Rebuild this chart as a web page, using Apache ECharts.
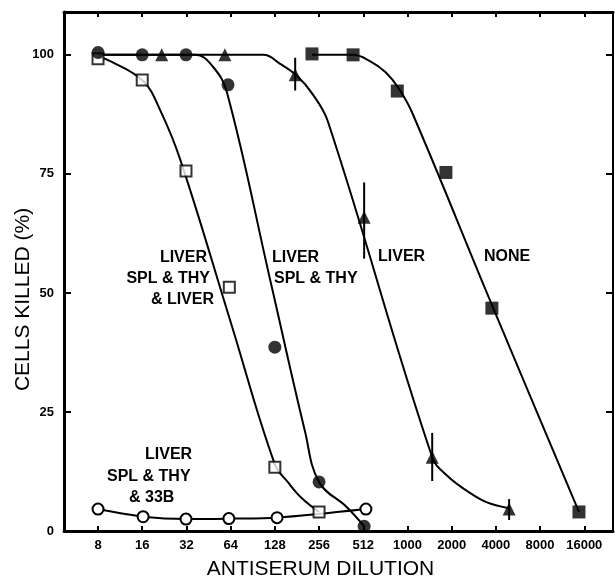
<!DOCTYPE html>
<html>
<head>
<meta charset="utf-8">
<script src="https://cdn.jsdelivr.net/npm/echarts@6/dist/echarts.min.js"></script>
<style>
  html, body { margin: 0; padding: 0; background: #fff; }
  #main { width: 615px; height: 581px; }
</style>
</head>
<body>
<div id="main"></div>
<script>
// x is in dilution steps (log2 scale, 0 = 1:8, 1 = 1:16, ...)
var xLabels = ['8', '16', '32', '64', '128', '256', '512', '1000', '2000', '4000', '8000', '16000'];
var yTicks = [0, 25, 50, 75, 100];

// LIVER, SPL & THY & 33B (open circles)
var absB33 = [[0, 4.6], [1.02, 3.0], [1.99, 2.5], [2.96, 2.6], [4.05, 2.8], [6.06, 4.6]];

// LIVER, SPL & THY & LIVER (open squares)
var absLiverPts = [[0, 99.2], [1, 94.7], [1.99, 75.6], [2.97, 51.2], [4.0, 13.4], [5.0, 4.0]];
var absLiverFit = [[0, 99.6], [0.3, 98.6], [1.02, 94.5], [1.4, 88.5], [1.86, 78], [3.0, 43.9], [4.0, 14], [4.3, 10.2], [4.6, 7], [5.0, 4.0]];

// LIVER, SPL & THY (filled circles)
var absSplPts = [[0, 100.5], [1, 100], [1.99, 100], [2.94, 93.7], [4.0, 38.6], [5.0, 10.3], [6.02, 1.0]];
var absSplFit = [[0, 100], [2.2, 100], [2.6, 97.5], [2.92, 92], [3.9, 52.5], [4.68, 21], [5.0, 10.3], [5.63, 5.0], [6.02, 1.0]];

// LIVER (filled triangles, with error bars)
var absLivPts = [[1.44, 100], [2.87, 100], [4.46, 95.8], [6.02, 65.9], [7.56, 15.5], [9.3, 4.6]];
var absLivErr = [[4.46, 92.5, 99.4], [6.02, 57.2, 73.2], [7.56, 10.5, 20.6], [9.3, 2.3, 6.7]];
var absLivFit = [[0, 100], [3.74, 100], [4.12, 98.1], [4.5, 95.6], [4.85, 91.8], [5.2, 86], [7.56, 15.5], [7.9, 11.6], [8.35, 8.4], [8.8, 6.0], [9.3, 4.8]];

// NONE (filled squares)
var nonePts = [[4.84, 100.2], [5.77, 100], [6.77, 92.4], [7.87, 75.3], [8.91, 46.8], [10.88, 4.0]];
var noneFit = [[4.84, 100], [5.77, 100], [6.15, 98.7], [6.5, 96.4], [6.8, 93], [7.1, 88], [8.87, 48.4], [10.88, 4.0]];

var xTickPos = xLabels.map(function (l, i) { return i; });
var FONT = '"Liberation Sans", Arial, sans-serif';

function fitLine(data) {
	return {
		type: 'line', data: data, smooth: 0.4, showSymbol: false, silent: true,
		lineStyle: { color: '#000', width: 2 }, z: 2
	};
}
function points(data, symbol, size, filled) {
	return {
		type: 'scatter', data: data, symbol: symbol, symbolSize: size, z: 4,
		itemStyle: filled ? { color: '#000' } : { color: '#fff', borderColor: '#000', borderWidth: 2 }
	};
}
function frameLine(width) {
	return { show: true, onZero: false, lineStyle: { color: '#000', width: width } };
}

var chart = echarts.init(document.getElementById('main'));

chart.setOption({
	animation: false,
	backgroundColor: '#fff',
	grid: { left: 64, right: 2, top: 12, bottom: 50, containLabel: false, outerBoundsMode: 'none' },
	xAxis: [
		{
			type: 'value', min: -0.77, max: 11.65, position: 'bottom',
			axisLine: frameLine(3), splitLine: { show: false },
			name: 'ANTISERUM DILUTION', nameLocation: 'middle', nameGap: 28, nameMoveOverlap: false,
			nameTextStyle: { color: '#000', fontSize: 21, fontFamily: FONT, padding: [0, 36, 0, 0] },
			axisTick: { show: true, inside: true, length: 5, customValues: xTickPos, lineStyle: { color: '#000', width: 2 } },
			axisLabel: {
				customValues: xTickPos, margin: 8, color: '#000', fontSize: 13, fontWeight: 'bold', fontFamily: FONT,
				formatter: function (v) { return xLabels[Math.round(v)]; }
			}
		},
		{
			type: 'value', min: -0.77, max: 11.65, position: 'top',
			axisLine: frameLine(3), splitLine: { show: false },
			axisTick: { show: true, inside: true, length: 5, customValues: xTickPos, lineStyle: { color: '#000', width: 2 } },
			axisLabel: { show: false }
		}
	],
	yAxis: [
		{
			type: 'value', min: 0, max: 109, position: 'left',
			axisLine: frameLine(3), splitLine: { show: false },
			name: 'CELLS KILLED (%)', nameLocation: 'middle', nameGap: 30, nameMoveOverlap: false,
			nameTextStyle: { color: '#000', fontSize: 21, fontFamily: FONT, padding: [0, 56, 0, 0] },
			axisTick: { show: true, inside: true, length: 7, customValues: yTicks, lineStyle: { color: '#000', width: 2 } },
			axisLabel: { customValues: yTicks, margin: 10, color: '#000', fontSize: 13, fontWeight: 'bold', fontFamily: FONT }
		},
		{
			type: 'value', min: 0, max: 109, position: 'right',
			axisLine: frameLine(2), splitLine: { show: false },
			axisTick: { show: true, inside: true, length: 7, customValues: yTicks, lineStyle: { color: '#000', width: 2 } },
			axisLabel: { show: false }
		}
	],
	series: [
		fitLine(absLiverFit),
		fitLine(absSplFit),
		fitLine(absLivFit),
		fitLine(noneFit),
		{
			type: 'line', data: absB33, smooth: 0.3, symbol: 'circle', symbolSize: 11, z: 3,
			lineStyle: { color: '#000', width: 2 },
			itemStyle: { color: '#fff', borderColor: '#000', borderWidth: 2 }
		},
		{
			type: 'custom', z: 3,
			data: absLivErr,
			renderItem: function (params, api) {
				var lo = api.coord([api.value(0), api.value(1)]);
				var hi = api.coord([api.value(0), api.value(2)]);
				return {
					type: 'line',
					shape: { x1: lo[0], y1: lo[1], x2: hi[0], y2: hi[1] },
					style: { stroke: '#000', lineWidth: 2 }
				};
			}
		},
		points(absLiverPts, 'rect', 11, false),
		points(absSplPts, 'circle', 13, true),
		points(absLivPts, 'triangle', 13, true),
		points(nonePts, 'rect', 13, true)
	],
	graphic: [
		{ type: 'text', right: 615 - 207, top: 250, style: { text: 'LIVER', font: 'bold 16px ' + FONT, fill: '#000' } },
		{ type: 'text', right: 615 - 210, top: 271, style: { text: 'SPL & THY', font: 'bold 16px ' + FONT, fill: '#000' } },
		{ type: 'text', right: 615 - 214, top: 292, style: { text: '& LIVER', font: 'bold 16px ' + FONT, fill: '#000' } },
		{ type: 'text', left: 272, top: 250, style: { text: 'LIVER', font: 'bold 16px ' + FONT, fill: '#000' } },
		{ type: 'text', left: 274, top: 271, style: { text: 'SPL & THY', font: 'bold 16px ' + FONT, fill: '#000' } },
		{ type: 'text', left: 378, top: 249, style: { text: 'LIVER', font: 'bold 16px ' + FONT, fill: '#000' } },
		{ type: 'text', left: 484, top: 249, style: { text: 'NONE', font: 'bold 16px ' + FONT, fill: '#000' } },
		{ type: 'text', left: 145, top: 447, style: { text: 'LIVER', font: 'bold 16px ' + FONT, fill: '#000' } },
		{ type: 'text', left: 107, top: 469, style: { text: 'SPL & THY', font: 'bold 16px ' + FONT, fill: '#000' } },
		{ type: 'text', left: 129, top: 490, style: { text: '& 33B', font: 'bold 16px ' + FONT, fill: '#000' } }
	]
});
</script>
</body>
</html>
